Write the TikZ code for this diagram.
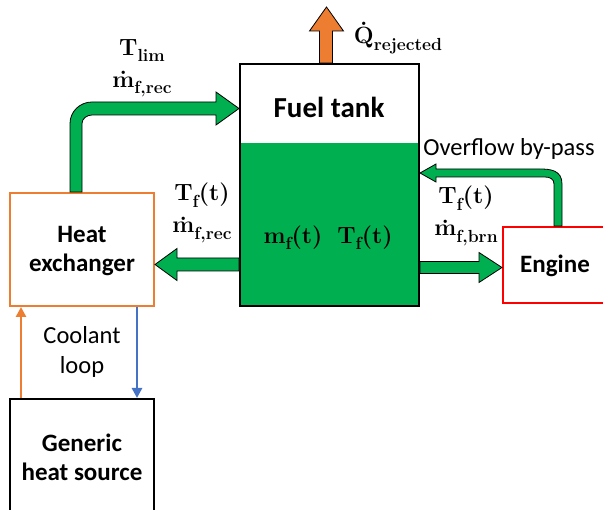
\documentclass[tikz,border=0pt]{standalone}
\usepackage{fontspec}
\newfontfamily\calib{Carlito}
\usetikzlibrary{calc,arrows.meta}
\definecolor{fgreen}{HTML}{00B050}
\definecolor{forange}{HTML}{ED7D31}
\definecolor{fblue}{HTML}{4472C4}
\newcommand{\lsub}[1]{\raisebox{-0.27em}{\fontsize{17.5}{18}\selectfont #1}}
\newcommand{\dotac}[2]{\setbox0\hbox{#2}\hbox to\wd0{\hss\raisebox{#1}{.}\hss}\kern-\wd0\box0}
\begin{document}
\begin{tikzpicture}[x=1pt,y=-1pt,
  boxline/.style={line width=2pt},
  btxt/.style={font=\calib\bfseries\fontsize{25}{29}\selectfont, align=center, inner sep=0pt},
  rtxt/.style={font=\calib\fontsize{24.5}{30}\selectfont, align=center, inner sep=0pt},
  mtxt/.style={font=\bfseries\fontsize{23.5}{32}\selectfont, align=center, inner sep=0pt},
  bigarrow/.style={fill=fgreen, draw=black, line width=0.8pt, line join=miter},
  thin/.style={line width=2.8pt, -{Triangle[width=10pt,length=10pt]}}]
\useasboundingbox (0,0) rectangle (603,510);
\clip (0,0) rectangle (603,510);

% boxes
\fill[fgreen] (240,143) rectangle (419,305);
\node[draw=black, boxline, minimum width=179pt, minimum height=242pt, inner sep=0pt] (tank) at (329.5,185) {};
\node[draw=forange, boxline, minimum width=144pt, minimum height=113pt, inner sep=0pt] (hx) at (82,249.5) {};
\node[draw=red, boxline, minimum width=130pt, minimum height=76pt, inner sep=0pt] (eng) at (568,265) {};
\node[draw=black, boxline, minimum width=144pt, minimum height=140pt, inner sep=0pt] (ghs) at (82,469) {};

% box texts
\node[btxt, font=\calib\bfseries\fontsize{29}{30}\selectfont] (tanktxt) at (329,107) {Fuel tank};
\node[btxt] (hxtxt) at (82,251) {Heat\\exchanger};
\node[btxt] (engtxt) at (555,266) {Engine};
\node[btxt] (ghstxt) at (82,457) {Generic\\heat source};
\node[rtxt] (cool) at (82,352) {Coolant\\loop};
\node[rtxt] (ovf) at (509,149) {Overflow by-pass};

% flow labels
\node[mtxt] (l1) at (142,68) {T\lsub{lim}\\\dotac{0.52em}{m}\lsub{f,rec}};
\node[mtxt] (l3) at (202,213) {T\lsub{f}(t)\\\dotac{0.52em}{m}\lsub{f,rec}};
\node[mtxt] (l5) at (466,216) {T\lsub{f}(t)\\\dotac{0.52em}{m}\lsub{f,brn}};
\node[mtxt] (l7) at (293,238) {m\lsub{f}(t)};
\node[mtxt] (l8) at (365,238) {T\lsub{f}(t)};
\node[mtxt] (l9) at (398,38) {\dotac{0.76em}{Q}\lsub{rejected}};

% top arrow: heat exchanger -> tank (rounded corner)
\coordinate (ta) at ($(hx.north west)+(61,0)$);
\coordinate (tt) at (tank.west |- 0,108.5);
\draw[bigarrow] (ta) -- ($(ta |- tt)+(0,15)$)
  .. controls ($(ta |- tt)+(0,3)$) and ($(ta |- tt)+(10,-6.5)$) .. ($(ta |- tt)+(22,-6.5)$)
  -- ($(tt)+(-23,-6.5)$) -- ($(tt)+(-23,-16.5)$) -- (tt) -- ($(tt)+(-23,16.5)$) -- ($(tt)+(-23,6.5)$)
  -- ($(ta |- tt)+(22,6.5)$)
  .. controls ($(ta |- tt)+(17,6.5)$) and ($(ta |- tt)+(12,10)$) .. ($(ta |- tt)+(12,15)$)
  -- ($(ta)+(12,0)$) -- cycle;

% left arrow: tank -> heat exchanger
\coordinate (lt) at (hx.east |- 0,264.5);
\draw[bigarrow] (lt) -- ($(lt)+(22,-16)$) -- ($(lt)+(22,-6.5)$) -- ($(tank.west |- lt)+(0,-6.5)$)
  -- ($(tank.west |- lt)+(0,6.5)$) -- ($(lt)+(22,6.5)$) -- ($(lt)+(22,16)$) -- cycle;

% right arrow: tank -> engine
\coordinate (rt) at (eng.west |- 0,267.5);
\draw[bigarrow] (rt) -- ($(rt)+(-23,-15)$) -- ($(rt)+(-23,-6)$) -- ($(tank.east |- rt)+(0,-6)$)
  -- ($(tank.east |- rt)+(0,6)$) -- ($(rt)+(-23,6)$) -- ($(rt)+(-23,15)$) -- cycle;

% overflow arrow: engine -> tank
\coordinate (oa) at ($(eng.north west)+(52,0)$);
\coordinate (ot) at (tank.east |- 0,173);
\draw[bigarrow] (oa) -- ($(oa |- ot)+(0,11)$)
  .. controls ($(oa |- ot)+(0,6)$) and ($(oa |- ot)+(-4,4)$) .. ($(oa |- ot)+(-9,4)$)
  -- ($(ot)+(16,4)$) -- ($(ot)+(16,9)$) -- (ot) -- ($(ot)+(16,-9)$) -- ($(ot)+(16,-4)$)
  -- ($(oa |- ot)+(-14,-4)$)
  .. controls ($(oa |- ot)+(-4,-4)$) and ($(oa |- ot)+(8,-3)$) .. ($(oa |- ot)+(8,11)$)
  -- ($(oa)+(8,0)$) -- cycle;

% heat rejection arrow
\coordinate (qa) at (tank.north);
\draw[fill=forange, draw=black, line width=0.8pt] ($(qa)+(-10,0)$) -- ($(qa)+(-10,-32)$) -- ($(qa)+(-20,-32)$)
  -- ($(qa)+(-3,-56)$) -- ($(qa)+(14,-32)$) -- ($(qa)+(3,-32)$) -- ($(qa)+(3,0)$) -- cycle;

% coolant loop
\draw[thin, forange] ($(ghs.north west)+(12,0)$) -- ($(hx.south west)+(12,0)$);
\draw[thin, fblue] ($(hx.south west)+(128,0)$) -- ($(ghs.north west)+(128,0)$);
\end{tikzpicture}
\end{document}
